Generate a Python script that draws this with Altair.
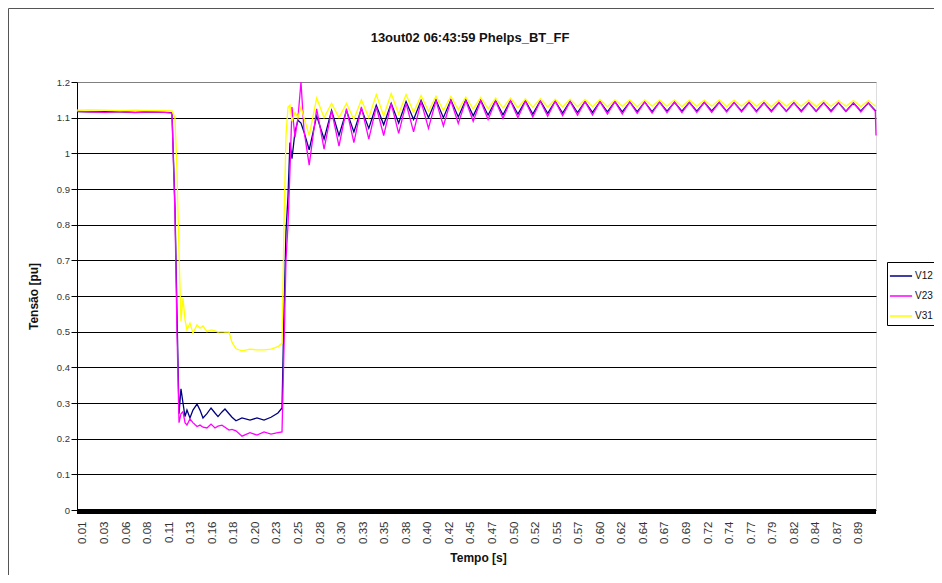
import altair as alt
import pandas as pd

TITLE = "13out02 06:43:59 Phelps_BT_FF"
X_TITLE = "Tempo [s]"
Y_TITLE = "Tensão [pu]"
SERIES = ["V12", "V23", "V31"]
COLORS = ["#000080", "#ff00ff", "#ffff00"]
X_LABELS = ["0.01", "0.03", "0.06", "0.08", "0.11", "0.13", "0.16", "0.18", "0.20", "0.23",
            "0.25", "0.28", "0.30", "0.33", "0.35", "0.38", "0.40", "0.42", "0.45", "0.47",
            "0.50", "0.52", "0.55", "0.57", "0.60", "0.62", "0.64", "0.67", "0.69", "0.72",
            "0.74", "0.77", "0.79", "0.82", "0.84", "0.87", "0.89"]
X_FIRST, X_LAST = 0.01, 0.89
X_DOMAIN = [0.0032, 0.9093]
Y_TICKS = [0, 0.1, 0.2, 0.3, 0.4, 0.5, 0.6, 0.7, 0.8, 0.9, 1.0, 1.1, 1.2]

TIME = [
    0.0032, 0.0179, 0.0349, 0.0520, 0.0690, 0.0860, 0.1030, 0.1109,
    0.1143, 0.1166, 0.1189, 0.1211, 0.1234, 0.1257, 0.1279, 0.1313,
    0.1347, 0.1393, 0.1427, 0.1461, 0.1506, 0.1552, 0.1597, 0.1631,
    0.1676, 0.1710, 0.1756, 0.1790, 0.1835, 0.1903, 0.1994, 0.2073,
    0.2153, 0.2232, 0.2311, 0.2357, 0.2379, 0.2402, 0.2425, 0.2447,
    0.2470, 0.2504, 0.2538, 0.2572, 0.2606,
    0.2665, 0.2750, 0.2834, 0.2919, 0.3003, 0.3088, 0.3172, 0.3257,
    0.3341, 0.3426, 0.3510, 0.3595, 0.3680, 0.3764, 0.3849, 0.3934,
    0.4018, 0.4103, 0.4187, 0.4272, 0.4356, 0.4441, 0.4525, 0.4610,
    0.4694, 0.4779, 0.4863, 0.4948, 0.5032, 0.5117, 0.5201, 0.5286,
    0.5370, 0.5455, 0.5539, 0.5624, 0.5708, 0.5793, 0.5878, 0.5963,
    0.6047, 0.6132, 0.6216, 0.6301, 0.6385, 0.6470, 0.6554, 0.6639,
    0.6723, 0.6808, 0.6892, 0.6977, 0.7061, 0.7146, 0.7230, 0.7315,
    0.7399, 0.7484, 0.7568, 0.7653, 0.7737, 0.7822, 0.7906, 0.7991,
    0.8076, 0.8161, 0.8245, 0.8330, 0.8414, 0.8499, 0.8583, 0.8668,
    0.8752, 0.8837, 0.8921, 0.9006, 0.9085, 0.9093,
]

V12 = [
    1.117, 1.116, 1.117, 1.116, 1.115, 1.116, 1.115, 1.114,
    0.850, 0.550, 0.270, 0.340, 0.300, 0.262, 0.280, 0.258,
    0.280, 0.297, 0.280, 0.258, 0.270, 0.286, 0.272, 0.262,
    0.275, 0.283, 0.270, 0.260, 0.250, 0.258, 0.252, 0.258,
    0.252, 0.260, 0.272, 0.286, 0.550, 0.780, 0.880, 1.030,
    0.985, 1.060, 1.093, 1.085, 1.060,
    1.010, 1.105, 1.040, 1.120, 1.050, 1.120, 1.060, 1.125,
    1.070, 1.135, 1.080, 1.140, 1.085, 1.145, 1.095, 1.148,
    1.100, 1.150, 1.100, 1.150, 1.102, 1.150, 1.105, 1.149,
    1.107, 1.148, 1.108, 1.148, 1.110, 1.147, 1.110, 1.147,
    1.112, 1.146, 1.113, 1.146, 1.114, 1.145, 1.115, 1.145,
    1.116, 1.145, 1.116, 1.144, 1.117, 1.144, 1.117, 1.144,
    1.118, 1.143, 1.118, 1.143, 1.118, 1.143, 1.119, 1.143,
    1.118, 1.142, 1.119, 1.143, 1.118, 1.142, 1.119, 1.142,
    1.118, 1.142, 1.119, 1.142, 1.118, 1.142, 1.119, 1.142,
    1.118, 1.141, 1.119, 1.141, 1.120, 1.118,
]

V23 = [
    1.118, 1.116, 1.115, 1.117, 1.114, 1.116, 1.115, 1.113,
    0.830, 0.500, 0.245, 0.270, 0.276, 0.245, 0.238, 0.255,
    0.245, 0.234, 0.238, 0.232, 0.230, 0.241, 0.230, 0.235,
    0.238, 0.232, 0.224, 0.226, 0.222, 0.207, 0.217, 0.210,
    0.219, 0.213, 0.217, 0.219, 0.450, 0.700, 0.800, 0.950,
    1.130, 1.045, 1.100, 1.200, 1.065,
    0.967, 1.125, 1.012, 1.120, 1.020, 1.125, 1.030, 1.130,
    1.040, 1.130, 1.050, 1.140, 1.056, 1.140, 1.060, 1.145,
    1.070, 1.148, 1.077, 1.148, 1.084, 1.148, 1.090, 1.147,
    1.095, 1.147, 1.098, 1.147, 1.100, 1.146, 1.102, 1.146,
    1.104, 1.146, 1.106, 1.145, 1.107, 1.145, 1.108, 1.145,
    1.110, 1.145, 1.110, 1.144, 1.112, 1.144, 1.113, 1.144,
    1.114, 1.144, 1.114, 1.143, 1.115, 1.143, 1.115, 1.143,
    1.116, 1.143, 1.116, 1.143, 1.116, 1.142, 1.116, 1.143,
    1.117, 1.142, 1.116, 1.142, 1.117, 1.142, 1.116, 1.142,
    1.117, 1.142, 1.116, 1.142, 1.118, 1.050,
]

V31 = [
    1.121, 1.122, 1.121, 1.120, 1.121, 1.120, 1.120, 1.119,
    1.100, 0.950, 0.720, 0.530, 0.594, 0.533, 0.505, 0.524,
    0.496, 0.519, 0.510, 0.516, 0.500, 0.505, 0.502, 0.499,
    0.500, 0.499, 0.499, 0.470, 0.452, 0.446, 0.451, 0.449,
    0.449, 0.451, 0.458, 0.468, 0.800, 1.050, 1.130, 1.135,
    1.090, 1.115, 1.100, 1.130, 1.100,
    1.050, 1.155, 1.100, 1.140, 1.100, 1.140, 1.095, 1.150,
    1.100, 1.165, 1.105, 1.168, 1.110, 1.165, 1.115, 1.162,
    1.118, 1.160, 1.120, 1.160, 1.122, 1.158, 1.124, 1.157,
    1.125, 1.155, 1.127, 1.155, 1.128, 1.153, 1.129, 1.153,
    1.130, 1.152, 1.130, 1.152, 1.131, 1.151, 1.131, 1.151,
    1.131, 1.150, 1.132, 1.150, 1.131, 1.150, 1.132, 1.149,
    1.132, 1.150, 1.131, 1.149, 1.132, 1.149, 1.132, 1.150,
    1.131, 1.149, 1.132, 1.149, 1.132, 1.148, 1.131, 1.149,
    1.132, 1.148, 1.132, 1.149, 1.131, 1.148, 1.132, 1.148,
    1.132, 1.148, 1.131, 1.148, 1.133, 1.132,
]

assert len(TIME) == len(V12) == len(V23) == len(V31)

rows = []
for name, vals in zip(SERIES, [V12, V23, V31]):
    for t, v in zip(TIME, vals):
        rows.append({"t": t, "v": v, "s": name})
df = pd.DataFrame(rows)

n = len(X_LABELS)
step = (X_LAST - X_FIRST) / (n - 1)
x_tick_vals = [X_FIRST + i * step for i in range(n)]
label_expr = "[" + ",".join("'" + s + "'" for s in X_LABELS) + "][round((datum.value - %.6f) / %.8f)]" % (X_FIRST, step)

FONT = "Liberation Sans"
W, H = 799, 428

lines = alt.Chart(df).mark_line(strokeWidth=1.3).encode(
    x=alt.X("t:Q",
            scale=alt.Scale(domain=X_DOMAIN, nice=False, zero=False),
            axis=alt.Axis(values=x_tick_vals, labelExpr=label_expr, labelAngle=270,
                          labelFontSize=11.5, labelColor="#333", labelPadding=11,
                          labelFont=FONT, ticks=False, domain=False, grid=False,
                          labelOverlap=False, labelFlush=False,
                          title=X_TITLE, titleFont=FONT, titleFontSize=12,
                          titleFontWeight="bold", titleColor="#111",
                          titleX=401, titleY=47, titleAlign="center",
                          titleBaseline="middle")),
    y=alt.Y("v:Q",
            scale=alt.Scale(domain=[0, 1.2], nice=False),
            axis=alt.Axis(values=Y_TICKS, format=".1~f", labelFontSize=9.5,
                          labelColor="#333", labelFont=FONT, labelPadding=1.5,
                          tickSize=6, tickColor="#000", tickWidth=1,
                          domainColor="#000", domainWidth=1,
                          grid=True,
                          gridColor={"condition": {"test": "datum.value > 1.15", "value": "#808080"},
                                     "value": "#000000"},
                          gridWidth=1,
                          title=Y_TITLE, titleFont=FONT, titleFontSize=12,
                          titleFontWeight="bold", titleColor="#111",
                          titleX=-44, titleY=214, titleAngle=270,
                          titleAlign="center", titleBaseline="middle")),
    color=alt.Color("s:N",
                    scale=alt.Scale(domain=SERIES, range=COLORS),
                    legend=alt.Legend(orient="none", legendX=810, legendY=180, title=None,
                                      symbolType="M-1.2,0L1.2,0", symbolSize=342,
                                      symbolStrokeWidth=1.5, labelFontSize=10,
                                      labelFont=FONT, labelColor="#111",
                                      labelExpr="datum.label + '        '",
                                      padding=4, strokeColor="#000", fillColor="#ffffff",
                                      rowPadding=5, labelOffset=4, cornerRadius=0)),
)

one = pd.DataFrame({"a": [0]})

band = alt.Chart(one).mark_rect(color="#000").encode(
    x=alt.value(0), x2=alt.value(W), y=alt.value(H - 1), y2=alt.value(H + 4))

frame_left = alt.Chart(one).mark_rule(color="#555", strokeWidth=1).encode(
    x=alt.value(-68.5), y=alt.value(-73.5), y2=alt.value(493))
frame_top = alt.Chart(one).mark_rule(color="#555", strokeWidth=1).encode(
    x=alt.value(-68.5), x2=alt.value(870), y=alt.value(-73.5))

title = alt.Chart(pd.DataFrame({"txt": [TITLE]})).mark_text(
    font=FONT, fontSize=13, fontWeight="bold", color="#111",
    align="center", baseline="middle").encode(
    x=alt.value(393), y=alt.value(-44), text="txt:N")

chart = alt.layer(band, lines, frame_left, frame_top, title).properties(
    width=W, height=H,
    padding={"left": 69, "top": 74, "right": 58, "bottom": 65},
    autosize=alt.AutoSizeParams(type="none"),
    background="white",
).configure_view(stroke="#808080", strokeWidth=1).configure(font=FONT)

chart.save("out.html", embed_options={"renderer": "svg", "actions": False})
